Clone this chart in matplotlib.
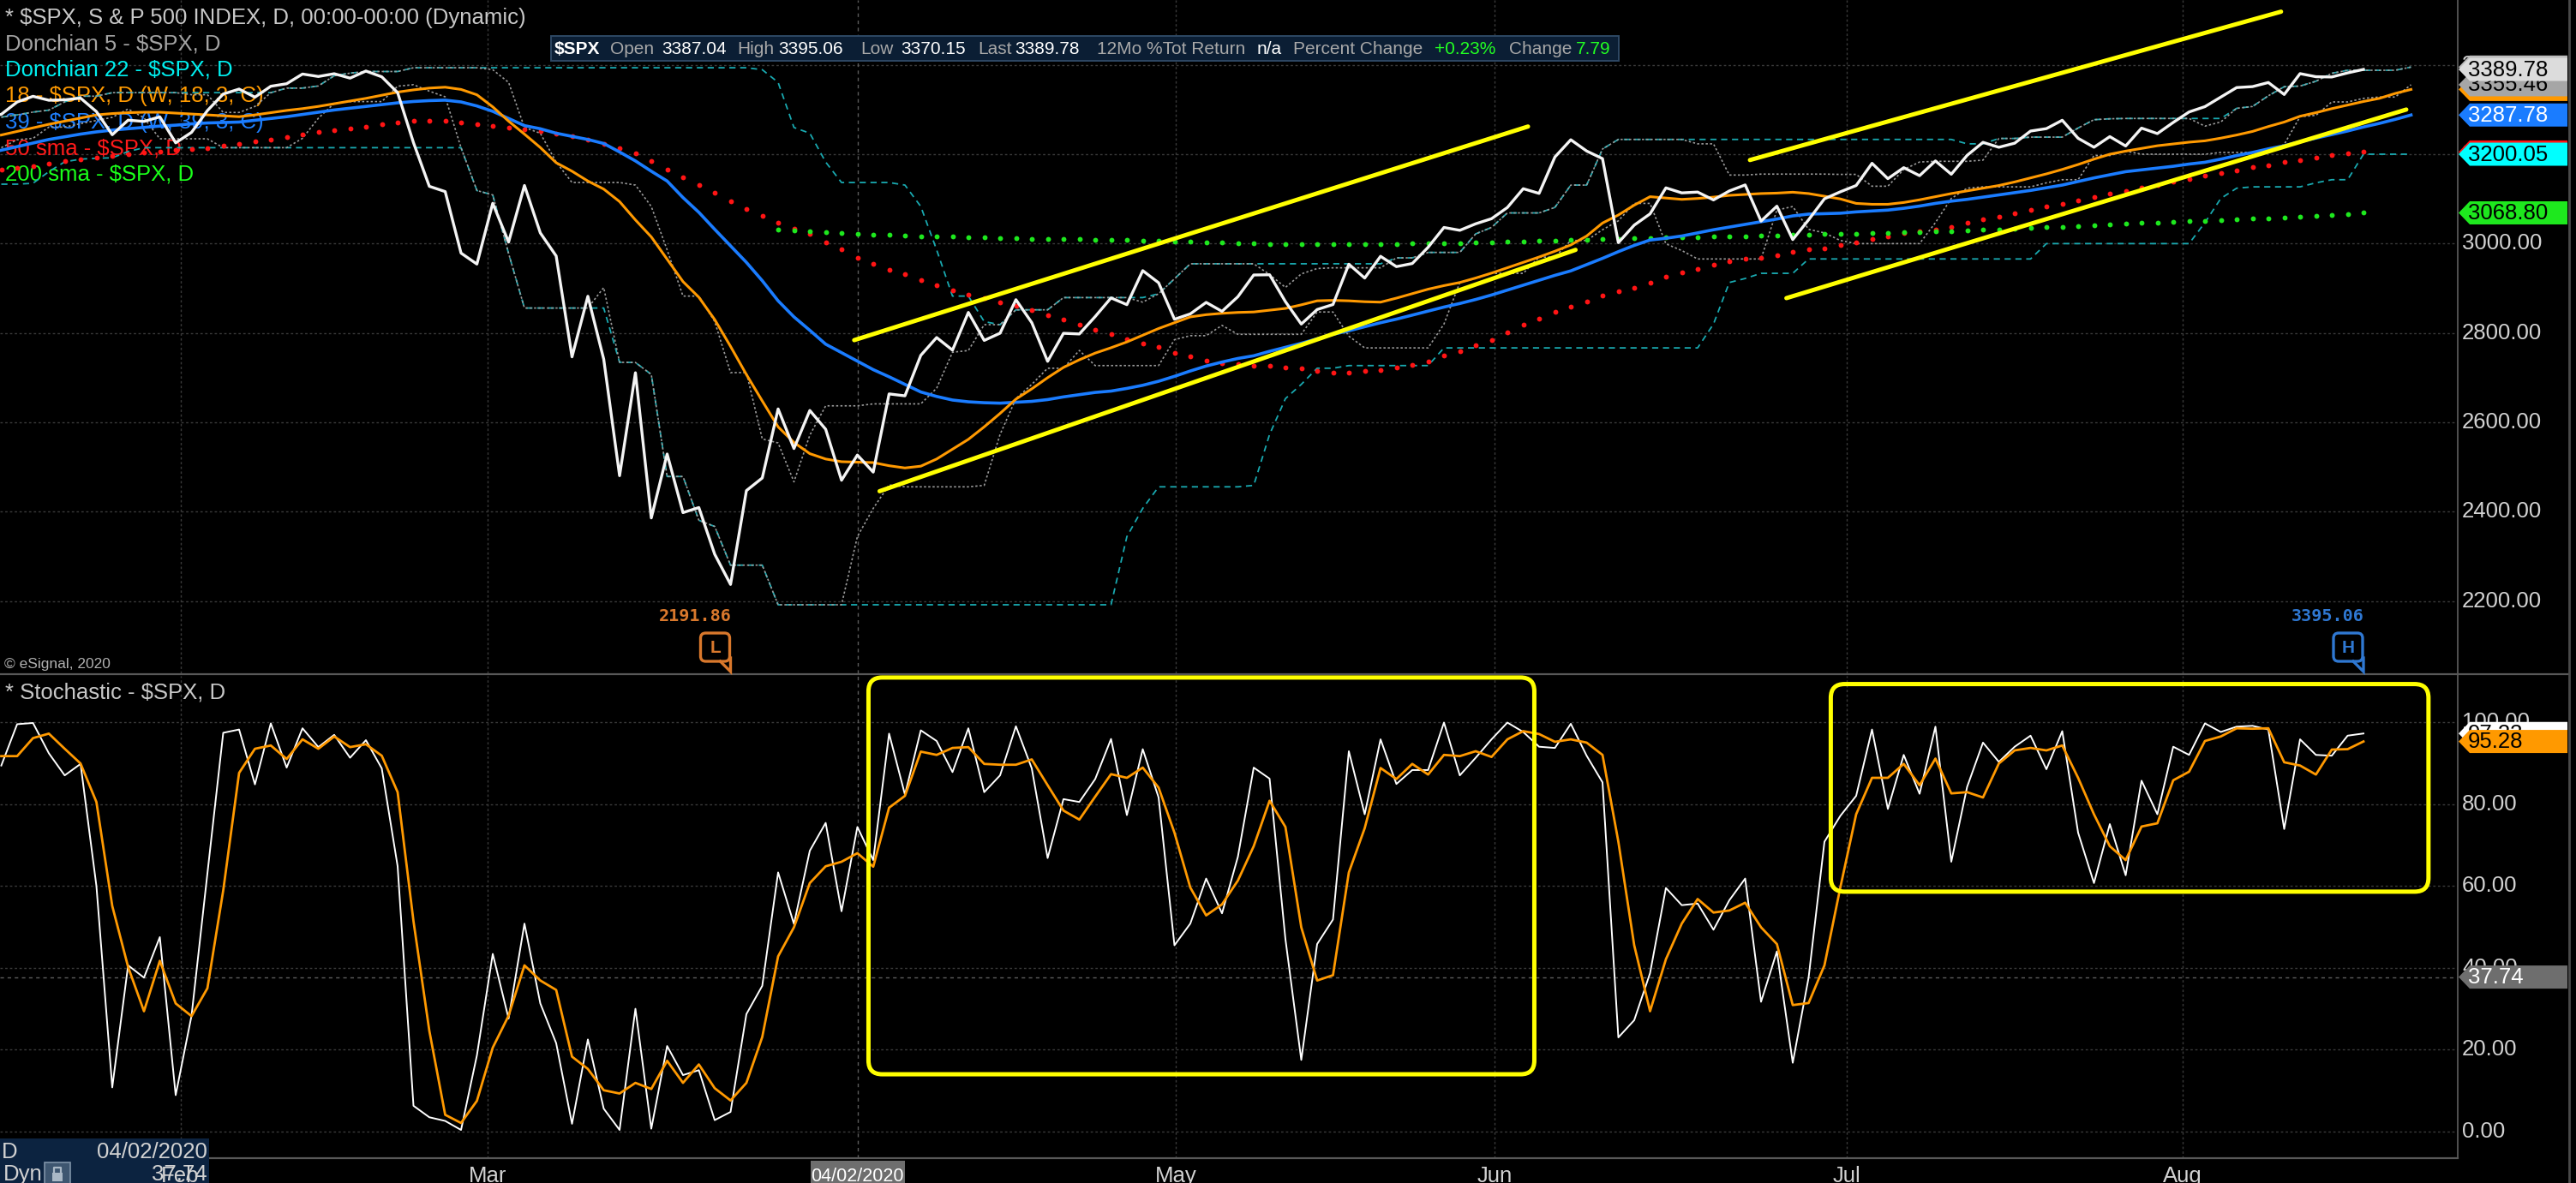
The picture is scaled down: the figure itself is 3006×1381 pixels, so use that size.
import numpy as np
import matplotlib
matplotlib.use("Agg")
import matplotlib.pyplot as plt
from matplotlib.patches import FancyBboxPatch, Polygon, Rectangle

plt.rcParams['font.family'] = ['Liberation Sans', 'DejaVu Sans']

# ---------------- data (bar index 0 = 2 Mar 2020, trading days) ----------------
price_start = -32  # 14 Jan 2020
spx_close = [
    3283.15, 3289.29, 3316.81, 3329.62, 3320.79, 3321.75, 3325.54, 3295.47, 3243.63, 3276.24,
    3273.40, 3283.66, 3225.52, 3248.92, 3297.59, 3334.69, 3345.78, 3327.71, 3352.09, 3357.75,
    3379.45, 3373.94, 3380.16, 3370.29, 3386.15, 3373.23, 3337.75, 3225.89, 3128.21, 3116.39,
    2978.76, 2954.22, 3090.23, 3003.37, 3130.12, 3023.94, 2972.37, 2746.56, 2882.23, 2741.38,
    2480.64, 2711.02, 2386.13, 2529.19, 2398.10, 2409.39, 2304.92, 2237.40, 2447.33, 2475.56,
    2630.07, 2541.47, 2626.65, 2584.59, 2470.50, 2526.90, 2488.65, 2663.68, 2659.41, 2749.98,
    2789.82, 2761.63, 2846.06, 2783.36, 2799.55, 2874.56, 2823.16, 2736.56, 2799.31, 2797.80,
    2836.74, 2878.48, 2863.39, 2939.51, 2912.43, 2830.71, 2842.74, 2868.44, 2848.42, 2881.19,
    2929.80, 2930.32, 2870.12, 2820.00, 2852.50, 2863.70, 2953.91, 2922.94, 2971.61, 2948.51,
    2955.45, 2991.77, 3036.13, 3029.73, 3044.31, 3055.73, 3080.82, 3122.87, 3112.35, 3193.93,
    3232.39, 3207.18, 3190.14, 3002.10, 3041.31, 3066.59, 3124.74, 3113.49, 3115.34, 3097.74,
    3117.86, 3131.29, 3050.33, 3083.76, 3009.05, 3053.24, 3100.29, 3115.86, 3130.01, 3179.72,
    3145.32, 3169.94, 3152.05, 3185.04, 3155.22, 3197.52, 3226.56, 3215.57, 3224.73, 3251.84,
    3257.30, 3276.02, 3235.66, 3215.63, 3239.41, 3218.44, 3258.44, 3246.22, 3271.12, 3294.61,
    3306.51, 3327.77, 3349.16, 3351.28, 3360.47, 3333.69, 3380.35, 3373.43, 3372.85, 3381.99,
    3389.78]

band_start = -31  # indicators plotted with a 3-bar forward offset run to bar 121
donchian5_upper = [
    3282.99, 3288.13, 3294.25, 3298.66, 3317.11, 3329.88, 3329.88, 3337.77, 3337.77, 3337.77,
    3337.77, 3337.77, 3333.18, 3333.18, 3293.47, 3293.47, 3306.92, 3337.58, 3347.96, 3347.96,
    3352.72, 3375.63, 3381.47, 3385.09, 3385.09, 3385.09, 3393.52, 3393.52, 3393.52, 3393.52,
    3393.52, 3389.15, 3360.76, 3259.81, 3246.99, 3182.51, 3136.72, 3136.72, 3136.72, 3136.72,
    3130.97, 3083.04, 2985.93, 2882.59, 2882.59, 2825.60, 2711.33, 2711.33, 2562.98, 2553.93,
    2466.97, 2571.42, 2637.01, 2637.01, 2637.01, 2641.39, 2641.39, 2641.39, 2641.39, 2676.52,
    2756.89, 2760.75, 2818.57, 2818.57, 2851.85, 2851.85, 2851.85, 2879.22, 2879.22, 2879.22,
    2879.22, 2879.22, 2868.98, 2887.72, 2921.40, 2954.86, 2954.86, 2954.86, 2954.86, 2954.86,
    2930.91, 2901.92, 2932.16, 2944.25, 2945.82, 2945.82, 2945.82, 2945.82, 2968.09, 2968.09,
    2980.29, 2980.29, 2980.29, 3021.72, 3036.25, 3068.67, 3068.67, 3068.67, 3081.07, 3130.94,
    3130.94, 3211.72, 3233.13, 3233.13, 3233.13, 3233.13, 3233.13, 3223.27, 3223.27, 3153.45,
    3153.45, 3155.53, 3155.53, 3155.53, 3155.53, 3155.53, 3154.90, 3154.90, 3128.44, 3128.44,
    3165.81, 3182.59, 3184.15, 3184.15, 3184.15, 3186.82, 3235.32, 3235.32, 3238.28, 3238.28,
    3238.28, 3258.61, 3277.29, 3279.32, 3279.99, 3279.99, 3279.99, 3279.99, 3279.99, 3262.91,
    3272.17, 3302.73, 3306.84, 3330.77, 3351.03, 3352.54, 3363.29, 3381.01, 3387.89, 3387.89,
    3387.89, 3387.89, 3395.06]
donchian5_lower = [
    3214.64, 3232.43, 3235.53, 3260.70, 3260.70, 3268.43, 3275.58, 3282.55, 3301.21, 3281.53,
    3234.50, 3234.50, 3234.50, 3234.50, 3214.68, 3214.68, 3214.68, 3214.68, 3214.68, 3235.53,
    3280.61, 3313.75, 3317.77, 3317.77, 3317.77, 3352.26, 3355.61, 3341.14, 3328.45, 3214.65,
    3118.77, 3108.99, 2977.89, 2855.84, 2855.84, 2855.84, 2855.84, 2855.84, 2901.54, 2734.43,
    2734.00, 2707.22, 2478.86, 2478.86, 2380.94, 2367.04, 2280.52, 2280.52, 2280.52, 2191.86,
    2191.86, 2191.86, 2191.86, 2191.86, 2344.44, 2407.53, 2459.96, 2455.79, 2455.79, 2455.79,
    2455.79, 2455.79, 2459.00, 2573.00, 2653.12, 2685.00, 2721.17, 2721.17, 2761.00, 2727.10,
    2727.10, 2727.10, 2727.10, 2727.10, 2785.00, 2794.00, 2794.00, 2817.00, 2797.00, 2797.00,
    2797.00, 2797.00, 2797.00, 2847.00, 2847.00, 2793.00, 2766.64, 2766.64, 2766.64, 2766.64,
    2766.64, 2820.00, 2913.00, 2922.00, 2933.52, 2933.52, 2933.52, 2969.75, 2969.75, 3007.00,
    3007.00, 3031.00, 3051.00, 3090.00, 3090.00, 2999.49, 2984.47, 2965.66, 2965.66, 2965.66,
    2965.66, 2965.66, 3075.00, 3083.00, 3032.00, 3024.00, 3007.00, 3000.00, 3000.00, 3000.00,
    3000.00, 3000.00, 3047.00, 3101.00, 3124.00, 3127.00, 3127.00, 3127.00, 3127.00, 3136.00,
    3143.00, 3143.00, 3197.00, 3197.00, 3207.00, 3200.05, 3200.05, 3200.05, 3200.05, 3200.05,
    3204.00, 3204.00, 3204.00, 3204.00, 3222.00, 3284.00, 3287.00, 3317.00, 3317.00, 3325.00,
    3328.00, 3328.00, 3355.46]
donchian22_upper = [
    3282.99, 3288.13, 3294.25, 3298.66, 3317.11, 3329.88, 3329.88, 3337.77, 3337.77, 3337.77,
    3337.77, 3337.77, 3337.77, 3337.77, 3337.77, 3337.77, 3337.77, 3337.77, 3347.96, 3347.96,
    3352.72, 3375.63, 3381.47, 3385.09, 3385.09, 3385.09, 3393.52, 3393.52, 3393.52, 3393.52,
    3393.52, 3393.52, 3393.52, 3393.52, 3393.52, 3393.52, 3393.52, 3393.52, 3393.52, 3393.52,
    3393.52, 3393.52, 3393.52, 3393.52, 3393.52, 3393.52, 3393.52, 3393.52, 3389.15, 3360.76,
    3259.81, 3246.99, 3182.51, 3136.72, 3136.72, 3136.72, 3136.72, 3130.97, 3083.04, 2985.93,
    2882.59, 2882.59, 2825.60, 2818.57, 2851.85, 2851.85, 2851.85, 2879.22, 2879.22, 2879.22,
    2879.22, 2879.22, 2879.22, 2887.72, 2921.40, 2954.86, 2954.86, 2954.86, 2954.86, 2954.86,
    2954.86, 2954.86, 2954.86, 2954.86, 2954.86, 2954.86, 2954.86, 2954.86, 2968.09, 2968.09,
    2980.29, 2980.29, 2980.29, 3021.72, 3036.25, 3068.67, 3068.67, 3068.67, 3081.07, 3130.94,
    3130.94, 3211.72, 3233.13, 3233.13, 3233.13, 3233.13, 3233.13, 3233.13, 3233.13, 3233.13,
    3233.13, 3233.13, 3233.13, 3233.13, 3233.13, 3233.13, 3233.13, 3233.13, 3233.13, 3233.13,
    3233.13, 3233.13, 3233.13, 3233.13, 3223.27, 3223.27, 3235.32, 3235.32, 3238.28, 3238.28,
    3238.28, 3258.61, 3277.29, 3279.32, 3279.99, 3279.99, 3279.99, 3279.99, 3279.99, 3279.99,
    3279.99, 3302.73, 3306.84, 3330.77, 3351.03, 3352.54, 3363.29, 3381.01, 3387.89, 3387.89,
    3387.89, 3387.89, 3395.06]
donchian22_lower = [
    3133.00, 3133.00, 3135.00, 3161.00, 3183.00, 3189.00, 3191.00, 3192.00, 3206.00, 3214.65,
    3214.65, 3214.65, 3214.65, 3214.65, 3214.65, 3214.65, 3214.65, 3214.65, 3214.65, 3214.65,
    3214.65, 3214.65, 3214.65, 3214.65, 3214.65, 3214.65, 3214.65, 3214.65, 3214.65, 3214.65,
    3118.77, 3108.99, 2977.89, 2855.84, 2855.84, 2855.84, 2855.84, 2855.84, 2855.84, 2734.43,
    2734.00, 2707.22, 2478.86, 2478.86, 2380.94, 2367.04, 2280.52, 2280.52, 2280.52, 2191.86,
    2191.86, 2191.86, 2191.86, 2191.86, 2191.86, 2191.86, 2191.86, 2191.86, 2191.86, 2191.86,
    2191.86, 2191.86, 2191.86, 2191.86, 2191.86, 2191.86, 2191.86, 2191.86, 2191.86, 2191.86,
    2191.86, 2344.44, 2407.53, 2455.79, 2455.79, 2455.79, 2455.79, 2455.79, 2455.79, 2459.00,
    2573.00, 2653.12, 2685.00, 2721.17, 2721.17, 2727.10, 2727.10, 2727.10, 2727.10, 2727.10,
    2727.10, 2766.64, 2766.64, 2766.64, 2766.64, 2766.64, 2766.64, 2766.64, 2766.64, 2766.64,
    2766.64, 2766.64, 2766.64, 2766.64, 2766.64, 2766.64, 2766.64, 2766.64, 2820.00, 2913.00,
    2922.00, 2933.52, 2933.52, 2933.52, 2965.66, 2965.66, 2965.66, 2965.66, 2965.66, 2965.66,
    2965.66, 2965.66, 2965.66, 2965.66, 2965.66, 2965.66, 2965.66, 2965.66, 2965.66, 3000.00,
    3000.00, 3000.00, 3000.00, 3000.00, 3000.00, 3000.00, 3000.00, 3000.00, 3000.00, 3047.00,
    3101.00, 3124.00, 3127.00, 3127.00, 3127.00, 3127.00, 3136.00, 3143.00, 3143.00, 3200.05,
    3200.05, 3200.05, 3200.05]
wma18 = [
    3243, 3251, 3259, 3267, 3274, 3281, 3288, 3291, 3293, 3294,
    3294, 3292, 3290, 3288, 3286, 3284, 3288, 3293, 3298, 3302,
    3307, 3313, 3319, 3325, 3332, 3339, 3344, 3348, 3350, 3345,
    3333, 3306, 3274, 3245, 3215, 3181, 3162, 3140, 3122, 3094,
    3053, 3015, 2965, 2915, 2880, 2830, 2770, 2707, 2648, 2590,
    2555, 2530, 2518, 2512, 2511, 2510, 2503, 2498, 2502, 2518,
    2540, 2562, 2590, 2620, 2652, 2675, 2700, 2723, 2740, 2755,
    2767, 2780, 2795, 2810, 2823, 2836, 2841, 2844, 2846, 2847,
    2851, 2855, 2863, 2872, 2873, 2872, 2870, 2869, 2878, 2888,
    2898, 2906, 2913, 2923, 2934, 2946, 2958, 2970, 2983, 2997,
    3017, 3046, 3064, 3086, 3105, 3102, 3099, 3101, 3104, 3108,
    3110, 3112, 3113, 3115, 3112, 3106, 3100, 3090, 3088, 3088,
    3092, 3098, 3105, 3112, 3118, 3124, 3130, 3138, 3147, 3156,
    3166, 3177, 3189, 3200, 3207, 3213, 3219, 3223, 3227, 3230,
    3236, 3243, 3251, 3262, 3272, 3285, 3293, 3302, 3310, 3318,
    3325, 3336, 3345]
wma39 = [
    3209, 3217, 3225, 3233, 3239, 3245, 3250, 3254, 3257, 3260,
    3263, 3265, 3268, 3270, 3271, 3272, 3276, 3280, 3284, 3289,
    3294, 3299, 3303, 3307, 3311, 3315, 3318, 3320, 3321, 3317,
    3308, 3296, 3280, 3264, 3257, 3247, 3240, 3233, 3224, 3205,
    3185, 3162, 3140, 3103, 3070, 3032, 2995, 2958, 2917, 2872,
    2836, 2806, 2775, 2756, 2737, 2718, 2702, 2685, 2668, 2658,
    2650, 2646, 2644, 2643, 2645, 2647, 2651, 2657, 2662, 2667,
    2670, 2676, 2683, 2692, 2703, 2715, 2726, 2735, 2743, 2749,
    2759, 2768, 2777, 2787, 2797, 2805, 2814, 2823, 2831, 2840,
    2849, 2858, 2866, 2875, 2885, 2896, 2907, 2918, 2929, 2939,
    2953, 2967, 2982, 2996, 3008, 3012, 3017, 3024, 3031, 3037,
    3043, 3049, 3055, 3062, 3066, 3067, 3068, 3071, 3073, 3075,
    3079, 3084, 3090, 3095, 3099, 3104, 3109, 3114, 3119, 3125,
    3131, 3139, 3147, 3154, 3161, 3165, 3169, 3173, 3178, 3182,
    3189, 3197, 3204, 3212, 3219, 3228, 3236, 3244, 3252, 3261,
    3269, 3278, 3287.78]

sma50_start = -31
sma50 = [
    3166, 3170, 3174, 3179, 3184, 3189, 3193, 3196, 3200, 3203,
    3206, 3209, 3211, 3214, 3219, 3223, 3228, 3233, 3238, 3244,
    3250, 3254, 3257, 3262, 3267, 3271, 3274, 3275, 3274, 3271,
    3267, 3263, 3259, 3256, 3252, 3246, 3240, 3232, 3224, 3213,
    3202, 3184, 3166, 3149, 3132, 3113, 3094, 3078, 3062, 3046,
    3034, 3022, 3003, 2987, 2969, 2955, 2941, 2931, 2919, 2907,
    2895, 2885, 2878, 2869, 2861, 2852, 2840, 2830, 2818, 2808,
    2797, 2787, 2777, 2768, 2756, 2747, 2739, 2733, 2731, 2727,
    2727, 2723, 2720, 2715, 2712, 2712, 2715, 2718, 2722, 2729,
    2737, 2749, 2760, 2773, 2785, 2801, 2818, 2833, 2847, 2859,
    2871, 2883, 2893, 2902, 2912, 2926, 2936, 2943, 2952, 2960,
    2966, 2969, 2974, 2981, 2987, 2990, 2996, 3002, 3010, 3017,
    3024, 3027, 3032, 3038, 3046, 3054, 3061, 3067, 3075, 3083,
    3088, 3096, 3104, 3111, 3118, 3125, 3132, 3139, 3144, 3152,
    3158, 3164, 3171, 3176, 3182, 3187, 3192, 3198, 3202, 3205]
sma200_start = 18
sma200 = [
    3032, 3030, 3028, 3026, 3024, 3022, 3020, 3019, 3018, 3017,
    3017, 3016, 3015, 3014, 3013, 3012, 3011, 3011, 3010, 3010,
    3009, 3009, 3008, 3007, 3006, 3005, 3004, 3003, 3002, 3001,
    3000, 2999, 2998, 2998, 2998, 2998, 2998, 2998, 2999, 2999,
    3000, 3000, 3001, 3001, 3002, 3003, 3004, 3005, 3006, 3007,
    3008, 3009, 3010, 3011, 3012, 3013, 3014, 3014, 3015, 3016,
    3017, 3017, 3018, 3018, 3019, 3020, 3021, 3021, 3022, 3023,
    3024, 3025, 3026, 3027, 3028, 3030, 3031, 3032, 3034, 3035,
    3037, 3038, 3040, 3041, 3043, 3044, 3046, 3047, 3049, 3050,
    3051, 3053, 3054, 3056, 3057, 3058, 3060, 3062, 3064, 3066,
    3068.8]

stoch_start = -31
stoch_k = [
    89.4, 99.5, 99.8, 92.4, 87.0, 89.8, 60.0, 10.8, 40.6, 37.6,
    47.5, 8.9, 28.3, 63.0, 97.4, 98.2, 84.8, 99.7, 88.9, 98.5,
    93.9, 96.9, 91.3, 95.6, 88.7, 64.8, 6.3, 3.5, 2.6, 0.4,
    18.6, 43.4, 27.6, 50.8, 31.3, 21.6, 1.9, 22.5, 5.6, 0.4,
    30.0, 0.7, 20.9, 13.8, 15.0, 2.8, 4.8, 28.7, 35.6, 63.3,
    50.7, 68.6, 75.4, 53.8, 74.4, 66.3, 97.2, 82.3, 98.0, 95.4,
    87.8, 98.5, 82.9, 87.0, 99.0, 88.7, 66.8, 81.2, 80.5, 86.1,
    95.9, 77.3, 93.4, 81.6, 45.5, 50.8, 61.8, 53.3, 67.1, 88.9,
    86.2, 47.0, 17.5, 45.8, 51.8, 92.9, 77.5, 95.8, 84.9, 88.3,
    88.3, 99.9, 87.0, 91.3, 95.8, 99.9, 97.6, 94.0, 93.7, 99.6,
    91.8, 85.3, 23.0, 27.2, 38.7, 59.5, 55.3, 55.7, 49.3, 56.5,
    61.8, 31.7, 44.0, 16.8, 37.6, 70.8, 77.1, 82.0, 98.2, 78.8,
    92.0, 82.5, 98.9, 65.9, 84.2, 95.0, 90.3, 94.0, 96.7, 88.5,
    97.8, 73.0, 60.7, 75.1, 62.6, 85.7, 77.5, 94.0, 92.0, 99.7,
    97.6, 98.9, 99.1, 98.2, 73.9, 95.8, 92.0, 91.8, 96.7, 97.23]
stoch_d = [
    91.7, 91.7, 96.1, 97.2, 93.5, 89.9, 80.5, 55.1, 40.2, 29.4,
    41.7, 31.3, 28.2, 35.0, 58.9, 87.6, 93.5, 94.3, 91.0, 95.8,
    93.5, 96.5, 93.9, 94.6, 91.8, 82.9, 51.4, 24.6, 4.1, 2.1,
    7.5, 20.5, 28.3, 40.6, 36.9, 34.6, 18.3, 15.3, 10.1, 9.3,
    11.9, 10.4, 17.3, 11.9, 16.4, 10.6, 7.6, 11.9, 23.1, 42.8,
    49.9, 60.7, 64.8, 65.9, 68.0, 64.7, 79.1, 82.0, 92.8, 92.0,
    93.7, 93.9, 89.8, 89.6, 89.6, 90.9, 84.6, 78.4, 76.2, 81.8,
    87.3, 86.4, 88.9, 84.0, 73.0, 59.6, 52.8, 55.5, 61.3, 69.7,
    80.8, 74.4, 49.9, 36.9, 38.2, 63.3, 74.1, 88.8, 86.1, 89.8,
    87.2, 92.0, 91.7, 92.9, 91.5, 95.8, 97.8, 97.1, 95.2, 95.8,
    95.0, 92.0, 70.8, 45.5, 29.4, 42.1, 50.8, 56.8, 53.5, 54.0,
    55.9, 49.9, 45.8, 30.9, 31.4, 40.6, 59.6, 77.5, 86.4, 86.4,
    89.8, 84.6, 91.1, 82.6, 82.9, 81.6, 89.9, 93.1, 93.7, 93.1,
    94.3, 86.4, 77.5, 69.7, 66.3, 74.5, 75.3, 85.8, 87.9, 95.4,
    96.5, 98.5, 98.4, 98.5, 90.2, 89.4, 87.2, 93.3, 93.4, 95.28]

month_pos = [-19.7, -0.3, 43.1, 63.2, 85.4, 106.6]
month_lab = ['Feb', 'Mar', 'May', 'Jun', 'Jul', 'Aug']
cursor_idx = 23
cursor_label = '04/02/2020'
cursor_stoch = 37.74
price_ticks = [2200, 2400, 2600, 2800, 3000, 3200, 3400]
stoch_ticks = [0, 20, 40, 60, 80, 100]
trend_lines = [((22.8, 2784), (65.3, 3262)), ((24.4, 2446), (68.3, 2986)),
               ((79.3, 3187), (112.8, 3519)), ((81.6, 2878), (120.7, 3300))]
stoch_boxes = [(23.7, 14.0, 65.7, 110.9), (84.4, 58.6, 122.1, 109.3)]
low_val, high_val = 2191.86, 3395.06
low_idx, high_idx = 15, 118

for nm, arr, n in [('close', spx_close, 151), ('d5u', donchian5_upper, 153), ('d5l', donchian5_lower, 153),
                   ('d22u', donchian22_upper, 153), ('d22l', donchian22_lower, 153), ('w18', wma18, 153),
                   ('w39', wma39, 153), ('s50', sma50, 150), ('s200', sma200, 101),
                   ('k', stoch_k, 150), ('d', stoch_d, 150)]:
    if len(arr) != n:
        raise SystemExit(f'{nm} has {len(arr)} not {n}')

# ---------------- layout ----------------
W, H, DPI = 3006, 1381, 100
PXA = 2868          # right axis line (pixels)
X0PX, BARPX = 575.0, 18.5
XL, XR = -X0PX / BARPX, (PXA - X0PX) / BARPX

fig = plt.figure(figsize=(W / DPI, H / DPI), dpi=DPI, facecolor='black')
axp = fig.add_axes([0, 1 - 786 / H, PXA / W, 786 / H])
axs = fig.add_axes([0, 1 - 1352 / H, PXA / W, (1352 - 789) / H])
ov = fig.add_axes([0, 0, 1, 1])
ov.set_xlim(0, W); ov.set_ylim(H, 0); ov.axis('off'); ov.patch.set_visible(False)

for ax in (axp, axs):
    ax.set_facecolor('black')
    for s in ax.spines.values():
        s.set_visible(False)
    ax.set_xticks([]); ax.set_yticks([])
    ax.set_xlim(XL, XR)
axp.set_ylim(2038.5, 3545.1)
axs.set_ylim(-6.49, 111.3)

GRID = dict(color='#3a3a3a', lw=1.0, dashes=(2, 2), zorder=0.5)
for t in price_ticks:
    axp.axhline(t, **GRID)
for t in stoch_ticks:
    axs.axhline(t, **GRID)
for m in month_pos:
    axp.axvline(m, **GRID); axs.axvline(m, **GRID)
CUR = dict(color='#5c5c5c', lw=1.0, dashes=(3, 3), zorder=0.6)
axp.axvline(cursor_idx, **CUR); axs.axvline(cursor_idx, **CUR)
axs.axhline(cursor_stoch, **CUR)

# ---------------- price panel ----------------
xp = np.arange(price_start, price_start + len(spx_close))
xb = np.arange(band_start, band_start + len(wma18))
x50 = np.arange(sma50_start, sma50_start + len(sma50))
x200 = np.arange(sma200_start, sma200_start + len(sma200))

axp.plot(xb, donchian22_upper, color='#19a9b0', lw=1.3, dashes=(4, 3), zorder=2)
axp.plot(xb, donchian22_lower, color='#19a9b0', lw=1.3, dashes=(4, 3), zorder=2)
axp.plot(xb, donchian5_upper, color='#9a9a9a', lw=1.2, dashes=(1.5, 1.5), zorder=2.1)
axp.plot(xb, donchian5_lower, color='#9a9a9a', lw=1.2, dashes=(1.5, 1.5), zorder=2.1)
axp.plot(x50, sma50, ls='none', marker='o', ms=4.2, color='#ff1414', mec='none', zorder=2.2)
axp.plot(x200, sma200, ls='none', marker='o', ms=4.2, color='#1ee81e', mec='none', zorder=2.2)
axp.plot(xb, wma39, color='#1a7cff', lw=2.6, zorder=2.4)
axp.plot(xb, wma18, color='#ff9900', lw=2.2, zorder=2.5)
axp.plot(xp, spx_close, color='#f4f4f4', lw=2.4, zorder=2.6)
for (a, b) in trend_lines:
    axp.plot([a[0], b[0]], [a[1], b[1]], color='#ffff00', lw=3.6,
             solid_capstyle='round', zorder=3)

# legend texts (under the lines)
leg = [('* $SPX, S & P 500 INDEX, D, 00:00-00:00 (Dynamic)', '#c8c8c8'),
       ('Donchian 5 - $SPX, D', '#a4a4a4'),
       ('Donchian 22 - $SPX, D', '#00f0f0'),
       ('18 - $SPX, D (W, 18, 3, C)', '#ff9a00'),
       ('39 - $SPX, D (W, 39, 3, C)', '#1f80ff'),
       ('50 sma - $SPX, D', '#ff1a1a'),
       ('200 sma - $SPX, D', '#1aff1a')]
for i, (s, c) in enumerate(leg):
    axp.text(6, 21 + 30.4 * i, s, color=c, fontsize=18.5, va='center', ha='left',
             transform=ov.transData, zorder=1)

# ---------------- stochastic panel ----------------
xs = np.arange(stoch_start, stoch_start + len(stoch_k))
axs.plot(xs, stoch_k, color='white', lw=1.4, zorder=2)
axs.plot(xs, stoch_d, color='#ff9900', lw=2.0, zorder=2.1)
axs.text(6, 808, '* Stochastic - $SPX, D', color='#c8c8c8', fontsize=18.5,
         va='center', ha='left', transform=ov.transData, zorder=1)


def to_px(ax, x, v):
    d = ax.transData.transform((x, v))
    return d[0], H - d[1]


for (x0, v0, x1, v1) in stoch_boxes:
    X0, Y1 = to_px(axs, x0, v0)
    X1, Y0 = to_px(axs, x1, v1)
    ov.add_patch(FancyBboxPatch((X0, Y0), X1 - X0, Y1 - Y0,
                                boxstyle='round,pad=0,rounding_size=16',
                                fc='none', ec='#ffff00', lw=3.6, zorder=5))

# ---------------- frame lines ----------------
FR = '#585858'
ov.plot([0, 2998], [786.5, 786.5], color=FR, lw=1.6, zorder=4)
ov.plot([PXA, PXA], [0, 1352], color=FR, lw=1.3, zorder=4)
ov.plot([0, PXA], [1352, 1352], color=FR, lw=1.6, zorder=4)
ov.plot([2998, 2998], [0, H], color='#4a4a4a', lw=2.0, zorder=4)

# ---------------- right axis labels ----------------
TK = '#d2d2d2'
for t in price_ticks:
    _, py = to_px(axp, 0, t)
    ov.text(2873, py, f'{t:.2f}', color=TK, fontsize=18.5, va='center', ha='left', zorder=6)
for t in stoch_ticks:
    _, py = to_px(axs, 0, t)
    ov.text(2873, py, f'{t:.2f}', color=TK, fontsize=18.5, va='center', ha='left', zorder=6)


def tag(ax, value, face, tcol, text=None, z=7):
    _, py = to_px(ax, 0, value)
    hh = 13.5
    pts = [(PXA + 1, py), (PXA + 14, py - hh), (2996, py - hh), (2996, py + hh), (PXA + 14, py + hh)]
    ov.add_patch(Polygon(pts, closed=True, fc=face, ec='none', zorder=z))
    ov.text(2880, py + 0.5, text if text else f'{value:.2f}', color=tcol, fontsize=18.5,
            va='center', ha='left', zorder=z + 0.01)


tag(axp, wma18[-1], '#ff9900', 'black', z=7.0)
tag(axp, donchian5_lower[-1], '#a6a6a6', 'black', z=7.1)
tag(axp, high_val, '#bdbdbd', 'black', z=7.2)
tag(axp, spx_close[-1], '#dcdcdc', 'black', z=7.3)
tag(axp, wma39[-1], '#1a7cff', 'white', z=7.4)
tag(axp, sma50[-1], '#ff1414', 'black', z=7.5)
tag(axp, donchian22_lower[-1], '#00ffff', 'black', z=7.6)
tag(axp, sma200[-1], '#1ee81e', 'black', text='3068.80', z=7.7)
tag(axs, stoch_k[-1], '#ffffff', 'black', z=7.8)
tag(axs, stoch_d[-1], '#ff9900', 'black', z=7.9)
tag(axs, cursor_stoch, '#6e6e6e', 'white', z=8.0)

# ---------------- high / low markers ----------------
def marker(idx, val, letter, col):
    bx, _ = to_px(axp, idx, val)
    x1 = bx + 1
    ov.text(x1, 719, f'{val:.2f}', color=col, fontsize=14.5, family='DejaVu Sans Mono',
            fontweight='bold', ha='right', va='center', zorder=6)
    ov.add_patch(FancyBboxPatch((x1 - 36, 739), 34, 33, boxstyle='round,pad=0,rounding_size=6',
                                fc='black', ec=col, lw=2.4, zorder=6))
    ov.plot([x1 - 13, x1 - 1, x1 - 1], [772, 784, 768], color=col, lw=2.4, zorder=6.1,
            solid_joinstyle='miter')
    ov.text(x1 - 19, 756, letter, color=col, fontsize=15, fontweight='bold',
            ha='center', va='center', zorder=6.2)


marker(low_idx, low_val, 'L', '#d9782c')
marker(high_idx, high_val, 'H', '#2f78d2')

ov.text(5, 775, '\u00a9 eSignal, 2020', color='#b0b0b0', fontsize=12.5, va='center', ha='left', zorder=6)

# ---------------- info bar ----------------
ov.add_patch(Rectangle((643, 42), 1246, 29, fc='#0b1e34', ec='#2e4864', lw=1.4, zorder=6))
segs = [(647, '$SPX', 'white', 'bold'), (712, 'Open', '#a8a8a8', 'normal'),
        (772, '3387.04', 'white', 'normal'), (860, 'High', '#a8a8a8', 'normal'),
        (908, '3395.06', 'white', 'normal'), (1004, 'Low', '#a8a8a8', 'normal'),
        (1051, '3370.15', 'white', 'normal'), (1141, 'Last', '#a8a8a8', 'normal'),
        (1184, '3389.78', 'white', 'normal'), (1280, '12Mo %Tot Return', '#a8a8a8', 'normal'),
        (1467, 'n/a', 'white', 'normal'), (1509, 'Percent Change', '#a8a8a8', 'normal'),
        (1674, '+0.23%', '#22ff22', 'normal'), (1761, 'Change', '#a8a8a8', 'normal'),
        (1839, '7.79', '#22ff22', 'normal')]
for x, s, c, w in segs:
    ov.text(x, 57, s, color=c, fontsize=15, fontweight=w, va='center', ha='left', zorder=6.1)

# ---------------- x axis ----------------
for m, lab in zip(month_pos, month_lab):
    px, _ = to_px(axs, m, 0)
    ov.text(px, 1380, lab, color=TK, fontsize=18.5, ha='center', va='baseline', zorder=6.45)
cx, _ = to_px(axs, cursor_idx, 0)
ov.add_patch(Rectangle((cx - 55, 1355), 110, 30, fc='#6e6e6e', ec='none', zorder=6.5))
ov.text(cx, 1379, cursor_label, color='white', fontsize=15.5, ha='center', va='baseline', zorder=6.6)

# bottom-left cursor box
ov.add_patch(Rectangle((0, 1329), 244, 60, fc='#0c2340', ec='none', zorder=6.2))
ov.text(2, 1345, 'D', color=TK, fontsize=18.5, ha='left', va='center', zorder=6.3)
ov.text(242, 1345, cursor_label, color=TK, fontsize=18.5, ha='right', va='center', zorder=6.3)
ov.text(4, 1371, 'Dyn', color=TK, fontsize=18.5, ha='left', va='center', zorder=6.3)
ov.add_patch(Rectangle((52, 1357), 30, 26, fc='#3e5670', ec='#7f93a8', lw=1.2, zorder=6.3))
ov.add_patch(Rectangle((61, 1369), 12, 10, fc='#aab8c6', ec='none', zorder=6.4))
ov.plot([63, 63, 71, 71], [1369, 1363, 1363, 1369], color='#aab8c6', lw=1.6, zorder=6.4)
ov.text(242, 1371, f'{cursor_stoch:.2f}', color=TK, fontsize=18.5, ha='right', va='center', zorder=6.3)

fig.savefig('out.png', dpi=DPI, facecolor='black')
